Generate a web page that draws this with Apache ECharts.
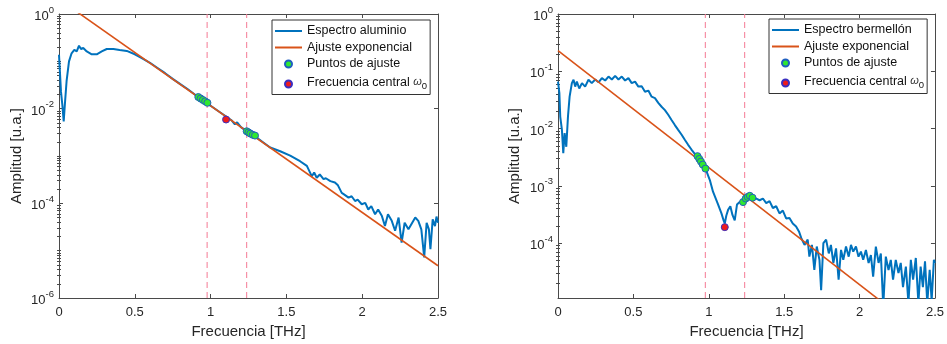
<!DOCTYPE html>
<html>
<head>
<meta charset="utf-8">
<script src="https://cdn.jsdelivr.net/npm/echarts@6/dist/echarts.min.js"></script>
<style>
  html, body { margin: 0; padding: 0; background: #fff; }
  #chart { width: 947px; height: 344px; }
</style>
</head>
<body>
<div id="chart"></div>
<script>
// ---- Aluminium sample: [frequency (THz), amplitude (a.u.)] ----
const aluminioSpectrum = [
  [0.000, 1.38e-1], [0.007, 5.25e-2], [0.013, 2.29e-2], [0.022, 1.2e-2], [0.031, 5.4e-3],
  [0.040, 1.41e-2], [0.050, 3.8e-2], [0.066, 1.0e-1], [0.083, 1.48e-1], [0.101, 1.74e-1],
  [0.117, 1.62e-1], [0.132, 2.14e-1], [0.145, 1.82e-1], [0.160, 1.91e-1], [0.183, 1.62e-1],
  [0.216, 1.41e-1], [0.249, 1.41e-1], [0.282, 1.62e-1], [0.315, 1.82e-1], [0.359, 1.82e-1],
  [0.400, 1.74e-1], [0.447, 1.66e-1], [0.500, 1.41e-1], [0.546, 1.17e-1], [0.600, 9.33e-2],
  [0.650, 7.24e-2], [0.700, 5.62e-2], [0.750, 4.27e-2], [0.800, 3.31e-2], [0.850, 2.57e-2],
  [0.900, 1.95e-2], [0.922, 1.76e-2], [0.940, 1.6e-2], [0.955, 1.48e-2], [0.970, 1.38e-2],
  [0.985, 1.28e-2], [1.000, 1.15e-2], [1.050, 8.91e-3], [1.100, 6.92e-3], [1.140, 5.62e-3],
  [1.160, 4.68e-3], [1.175, 5.13e-3], [1.200, 4.07e-3], [1.240, 3.31e-3], [1.255, 3.09e-3],
  [1.270, 2.9e-3], [1.285, 2.75e-3], [1.300, 2.5e-3], [1.350, 1.91e-3], [1.393, 1.51e-3],
  [1.459, 1.26e-3], [1.525, 1.02e-3], [1.590, 7.76e-4], [1.635, 6.17e-4], [1.668, 3.72e-4],
  [1.683, 4.47e-4], [1.700, 3.47e-4], [1.720, 4.07e-4], [1.745, 3.24e-4], [1.760, 3.39e-4],
  [1.790, 2.95e-4], [1.820, 2.75e-4], [1.840, 2.40e-4], [1.865, 1.66e-4], [1.880, 1.55e-4],
  [1.910, 1.32e-4], [1.930, 1.41e-4], [1.953, 1.12e-4], [1.970, 1.20e-4], [1.997, 9.55e-5],
  [2.020, 1.02e-4], [2.040, 7.41e-5], [2.060, 8.71e-5], [2.085, 5.89e-5], [2.105, 7.41e-5],
  [2.130, 5.37e-5], [2.150, 3.31e-5], [2.170, 5.89e-5], [2.195, 4.27e-5], [2.217, 2.63e-5],
  [2.240, 5.01e-5], [2.260, 1.48e-5], [2.280, 3.89e-5], [2.305, 2.82e-5], [2.330, 3.89e-5],
  [2.350, 5.01e-5], [2.370, 4.27e-5], [2.390, 2.82e-5], [2.409, 7.24e-6], [2.425, 3.89e-5],
  [2.440, 2.82e-5], [2.450, 1.07e-5], [2.465, 4.57e-5], [2.480, 3.31e-5], [2.490, 5.25e-5],
  [2.500, 3.89e-5]
];
const aluminioFit = [[0, 2.06], [2.5, 4.8e-6]];
const aluminioFitPoints = [
  [0.919, 1.76e-2], [0.934, 1.64e-2], [0.949, 1.53e-2], [0.964, 1.43e-2], [0.979, 1.33e-2],
  [1.238, 3.33e-3], [1.250, 3.15e-3], [1.262, 2.98e-3], [1.278, 2.8e-3], [1.293, 2.7e-3]
];
const aluminioCentral = [[1.102, 5.9e-3]];

// ---- Vermilion sample ----
const bermellonSpectrum = [
  [0.000, 6.6e-2], [0.004, 6.6e-2], [0.009, 4.2e-2], [0.015, 1.6e-2], [0.026, 9.5e-3],
  [0.035, 3.7e-3], [0.044, 8.3e-3], [0.055, 4.8e-3], [0.066, 1.6e-2], [0.077, 3.6e-2],
  [0.092, 6.2e-2], [0.103, 7.1e-2], [0.114, 5.4e-2], [0.125, 6.6e-2], [0.141, 5.0e-2],
  [0.159, 6.2e-2], [0.180, 5.4e-2], [0.202, 7.1e-2], [0.224, 6.2e-2], [0.247, 7.2e-2],
  [0.269, 6.4e-2], [0.291, 7.6e-2], [0.313, 6.9e-2], [0.335, 8.1e-2], [0.357, 7.2e-2],
  [0.379, 8.3e-2], [0.401, 7.2e-2], [0.423, 8.1e-2], [0.445, 6.9e-2], [0.467, 7.6e-2],
  [0.489, 6.2e-2], [0.511, 6.6e-2], [0.533, 5.4e-2], [0.555, 5.5e-2], [0.577, 4.4e-2],
  [0.599, 4.6e-2], [0.621, 3.6e-2], [0.643, 3.4e-2], [0.665, 2.8e-2], [0.687, 2.4e-2],
  [0.709, 2.1e-2], [0.731, 1.74e-2], [0.753, 1.41e-2], [0.775, 1.15e-2], [0.797, 9.5e-3],
  [0.820, 7.8e-3], [0.842, 6.3e-3], [0.863, 5.2e-3], [0.885, 4.3e-3], [0.907, 3.6e-3],
  [0.925, 3.3e-3], [0.940, 2.9e-3], [0.950, 2.6e-3], [0.962, 2.3e-3], [0.978, 2.0e-3],
  [1.007, 1.26e-3], [1.028, 7.9e-4], [1.062, 4.7e-4], [1.084, 3.3e-4], [1.098, 2.5e-4],
  [1.106, 2.2e-4], [1.116, 3.0e-4], [1.128, 3.8e-4], [1.143, 4.4e-4], [1.157, 3.1e-4],
  [1.172, 2.5e-4], [1.187, 4.7e-4], [1.205, 5.2e-4], [1.220, 5.0e-4], [1.232, 5.4e-4],
  [1.245, 6.0e-4], [1.260, 6.6e-4], [1.275, 6.9e-4], [1.293, 6.5e-4], [1.315, 6.0e-4],
  [1.337, 5.6e-4], [1.359, 6.0e-4], [1.381, 5.0e-4], [1.403, 5.4e-4], [1.425, 4.1e-4],
  [1.447, 4.4e-4], [1.469, 3.3e-4], [1.491, 3.7e-4], [1.513, 2.7e-4], [1.535, 2.75e-4],
  [1.557, 2.2e-4], [1.579, 1.95e-4], [1.598, 1.6e-4], [1.613, 1.23e-4], [1.635, 9.3e-5],
  [1.656, 1.15e-4], [1.667, 5.8e-5], [1.684, 9.3e-5], [1.700, 3.4e-5], [1.716, 8.7e-5],
  [1.734, 5.1e-5], [1.745, 1.5e-5], [1.760, 1.0e-4], [1.778, 1.15e-4], [1.796, 6.6e-5],
  [1.810, 9.3e-5], [1.826, 4.5e-5], [1.844, 8.1e-5], [1.861, 2.3e-5], [1.877, 7.6e-5],
  [1.892, 5.1e-5], [1.910, 8.7e-5], [1.928, 5.8e-5], [1.943, 9.3e-5], [1.958, 7.1e-5],
  [1.976, 8.7e-5], [1.993, 5.8e-5], [2.009, 7.1e-5], [2.024, 5.1e-5], [2.042, 7.6e-5],
  [2.060, 4.5e-5], [2.075, 6.2e-5], [2.090, 2.6e-5], [2.108, 8.7e-5], [2.126, 4.5e-5],
  [2.141, 6.6e-5], [2.157, 8.0e-6], [2.174, 5.8e-5], [2.192, 3.4e-5], [2.207, 5.1e-5],
  [2.222, 2.3e-5], [2.240, 5.1e-5], [2.258, 3.0e-5], [2.273, 4.5e-5], [2.288, 1.7e-5],
  [2.307, 3.9e-5], [2.324, 9.0e-6], [2.340, 5.1e-5], [2.355, 2.3e-5], [2.373, 5.5e-5],
  [2.390, 9.0e-6], [2.405, 3.9e-5], [2.420, 1.7e-5], [2.434, 4.8e-5], [2.449, 9.0e-6],
  [2.465, 3.4e-5], [2.478, 1.0e-5], [2.493, 5.1e-5], [2.500, 4.5e-5]
];
const bermellonFit = [[0, 0.229], [2.5, 1.79e-6]];
const bermellonFitPoints = [
  [0.925, 3.3e-3], [0.937, 2.95e-3], [0.948, 2.65e-3], [0.960, 2.35e-3], [0.978, 2.0e-3],
  [1.227, 5.2e-4], [1.245, 6.0e-4], [1.258, 6.4e-4], [1.272, 6.7e-4], [1.290, 6.2e-4]
];
const bermellonCentral = [[1.106, 1.9e-4]];

// Fit window edges (THz), shared by both panels
const bandEdges = [0.977, 1.238];

// Axis ranges and tick labels
const freqRange = [0, 2.5];
const freqStep = 0.5;
const aluminioAmpRange = [1e-6, 1];
const bermellonAmpRange = [1.1e-5, 1];
const aluminioAmpTicks = [1, 1e-2, 1e-4, 1e-6];
const bermellonAmpTicks = [1, 1e-1, 1e-2, 1e-3, 1e-4];
const minorMultipliers = [2, 3, 4, 5, 6, 7, 8, 9];

const FONT = "'Liberation Sans', Arial, Helvetica, sans-serif";
const AXIS_COLOR = '#4a4a4a';
const TEXT_COLOR = '#262626';
const BLUE = '#0072BD';
const ORANGE = '#D95319';
const GUIDE = '#f47a94';
const CENTRAL_NAME = 'Frecuencia central ω0';

// log-scale minor ticks (2..9 x 10^k) plus the unlabeled decades
function minorTicksFor(range, majors) {
  const out = [];
  const lo = Math.floor(Math.log10(range[0]));
  const hi = Math.round(Math.log10(range[1]));
  for (let e = lo; e < hi; e++) {
    const dec = Math.pow(10, e);
    if (dec >= range[0] && !majors.some(m => Math.abs(Math.log10(m) - e) < 1e-9)) out.push(dec);
    minorMultipliers.forEach(m => {
      const v = m * dec;
      if (v >= range[0] && v <= range[1]) out.push(v);
    });
  }
  return out;
}

const powRich = {
  b: { fontSize: 13, fontFamily: FONT, color: TEXT_COLOR, verticalAlign: 'bottom', lineHeight: 18 },
  e: { fontSize: 9.5, fontFamily: FONT, color: TEXT_COLOR, verticalAlign: 'top', lineHeight: 10 }
};
function powLabel(v) {
  return '{b|10}{e|' + Math.round(Math.log10(v)) + '}';
}

function xAxesFor(gi) {
  const common = {
    gridIndex: gi, type: 'value', min: freqRange[0], max: freqRange[1], interval: freqStep,
    axisLine: { onZero: false, lineStyle: { color: AXIS_COLOR, width: 1 } },
    axisTick: { inside: true, length: 4, lineStyle: { color: AXIS_COLOR } },
    splitLine: { show: false }
  };
  return [
    Object.assign({}, common, {
      position: 'bottom',
      name: 'Frecuencia [THz]', nameLocation: 'middle', nameGap: 26,
      nameTextStyle: { fontSize: 15, fontFamily: FONT, color: TEXT_COLOR },
      axisLabel: { fontSize: 13, fontFamily: FONT, color: TEXT_COLOR, margin: 8 }
    }),
    Object.assign({}, common, { position: 'top', axisLabel: { show: false } })
  ];
}

function yAxesFor(gi, range, majors, nameGap) {
  const minors = minorTicksFor(range, majors);
  const base = {
    gridIndex: gi, type: 'log', logBase: 10, min: range[0], max: range[1],
    splitLine: { show: false }, minorTick: { show: false }
  };
  return [
    Object.assign({}, base, {
      position: 'left',
      name: 'Amplitud [u.a.]', nameLocation: 'middle', nameGap: nameGap, nameRotate: 90,
      nameTextStyle: { fontSize: 15, fontFamily: FONT, color: TEXT_COLOR },
      axisLine: { show: true, onZero: false, lineStyle: { color: AXIS_COLOR, width: 1 } },
      axisTick: { show: true, inside: true, length: 4, customValues: majors, lineStyle: { color: AXIS_COLOR } },
      axisLabel: { customValues: majors, formatter: powLabel, rich: powRich, margin: 5 }
    }),
    Object.assign({}, base, {
      position: 'right',
      axisLine: { show: true, onZero: false, lineStyle: { color: AXIS_COLOR, width: 1 } },
      axisTick: { show: true, inside: true, length: 4, customValues: majors, lineStyle: { color: AXIS_COLOR } },
      axisLabel: { show: false }
    }),
    Object.assign({}, base, {
      position: 'left',
      axisLine: { show: false },
      axisTick: { show: true, inside: true, length: 2, customValues: minors, lineStyle: { color: AXIS_COLOR } },
      axisLabel: { show: false }
    }),
    Object.assign({}, base, {
      position: 'right',
      axisLine: { show: false },
      axisTick: { show: true, inside: true, length: 2, customValues: minors, lineStyle: { color: AXIS_COLOR } },
      axisLabel: { show: false }
    })
  ];
}

// dashed vertical guides spanning the full amplitude range of a panel
function guideSeries(gi, range) {
  return bandEdges.map(v => ({
    name: 'guide', type: 'line', xAxisIndex: gi * 2, yAxisIndex: gi * 4,
    data: [[v, range[0]], [v, range[1]]], symbol: 'none', silent: true, z: 1,
    color: GUIDE, lineStyle: { color: GUIDE, type: [6, 4], width: 1 },
    emphasis: { disabled: true }
  }));
}

function seriesFor(gi, spectrumName, spectrum, fit, fitPts, central, range) {
  const xi = gi * 2, yi = gi * 4;
  return guideSeries(gi, range).concat([
    {
      name: spectrumName, type: 'line', xAxisIndex: xi, yAxisIndex: yi,
      data: spectrum, symbol: 'none', color: BLUE,
      lineStyle: { color: BLUE, width: 2 }, z: 3
    },
    {
      name: 'Ajuste exponencial', type: 'line', xAxisIndex: xi, yAxisIndex: yi,
      data: fit, symbol: 'none', color: ORANGE,
      lineStyle: { color: ORANGE, width: 1.6 }, z: 4
    },
    {
      name: 'Puntos de ajuste', type: 'scatter', xAxisIndex: xi, yAxisIndex: yi,
      data: fitPts, symbol: 'circle', symbolSize: 7, z: 5,
      itemStyle: { color: '#2fe82f', borderColor: '#1f5fc0', borderWidth: 1, opacity: 1 }
    },
    {
      name: CENTRAL_NAME, type: 'scatter', xAxisIndex: xi, yAxisIndex: yi,
      data: central, symbol: 'circle', symbolSize: 7, z: 5,
      itemStyle: { color: '#ee1b1b', borderColor: '#3a2fc0', borderWidth: 1, opacity: 1 }
    }
  ]);
}

const lineIcon = 'path://M0,0H27V2H0Z';
function legendFor(left, top, spectrumName) {
  return {
    orient: 'vertical', left: left, top: top,
    backgroundColor: '#fff', borderColor: '#333', borderWidth: 1,
    padding: [4, 3, 3, 3], itemGap: 2.5, itemWidth: 27, itemHeight: 7,
    symbolKeepAspect: true, selectedMode: false,
    textStyle: {
      fontSize: 12.5, fontFamily: FONT, color: '#111', lineHeight: 14,
      rich: {
        t: { fontSize: 12.5, fontFamily: FONT, color: '#111', verticalAlign: 'top', lineHeight: 14 },
        w: { fontSize: 11, fontStyle: 'italic', fontFamily: FONT, color: '#333', verticalAlign: 'top', lineHeight: 15 },
        s: { fontSize: 9.5, fontFamily: FONT, color: '#111', verticalAlign: 'bottom', lineHeight: 10, padding: [8, 0, 0, 0] }
      }
    },
    formatter: name => name === CENTRAL_NAME ? '{t|Frecuencia central }{w|ω}{s|0}' : name,
    data: [
      { name: spectrumName, icon: lineIcon },
      { name: 'Ajuste exponencial', icon: lineIcon },
      { name: 'Puntos de ajuste', icon: 'circle' },
      { name: CENTRAL_NAME, icon: 'circle' }
    ]
  };
}

const chart = echarts.init(document.getElementById('chart'), null, { renderer: 'canvas' });
chart.setOption({
  animation: false,
  backgroundColor: '#fff',
  textStyle: { fontFamily: FONT },
  grid: [
    { left: 59, top: 14, width: 379, height: 285 },
    { left: 558, top: 14, width: 378, height: 284 }
  ],
  legend: [
    legendFor(272, 20, 'Espectro aluminio'),
    legendFor(769, 19, 'Espectro bermellón')
  ],
  xAxis: [].concat(xAxesFor(0), xAxesFor(1)),
  yAxis: [].concat(
    yAxesFor(0, aluminioAmpRange, aluminioAmpTicks, 35),
    yAxesFor(1, bermellonAmpRange, bermellonAmpTicks, 36)
  ),
  series: [].concat(
    seriesFor(0, 'Espectro aluminio', aluminioSpectrum, aluminioFit, aluminioFitPoints, aluminioCentral, aluminioAmpRange),
    seriesFor(1, 'Espectro bermellón', bermellonSpectrum, bermellonFit, bermellonFitPoints, bermellonCentral, bermellonAmpRange)
  )
});
</script>
</body>
</html>
